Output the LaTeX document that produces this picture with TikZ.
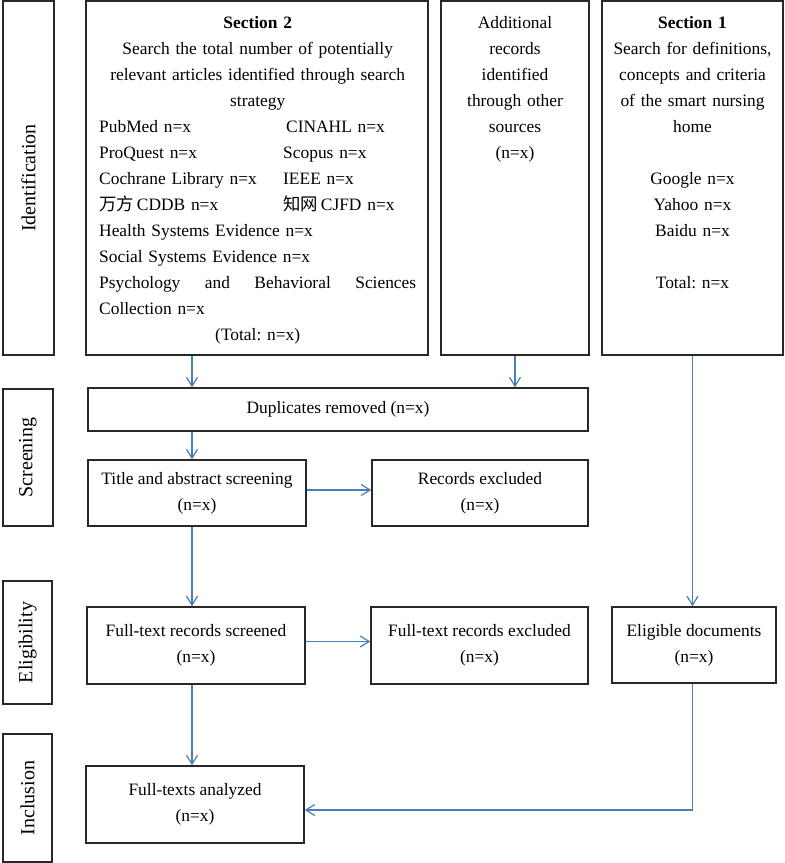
\documentclass[tikz,border=0pt]{standalone}
\usepackage{fontspec}
\setmainfont{Liberation Serif}
\newfontfamily\cjk{Noto Sans CJK SC}
\usetikzlibrary{arrows.meta}
\definecolor{arrowblue}{RGB}{74,126,187}
\definecolor{boxline}{RGB}{40,40,40}
\frenchspacing
\begin{document}
\begin{tikzpicture}[x=1pt,y=-1pt,
  box/.style={draw=boxline, line width=1.4pt, rectangle, inner sep=0pt, align=center, font=\fontsize{17.4}{26}\selectfont},
  sidebox/.style={draw=boxline, line width=1.4pt, rectangle, inner sep=0pt, rotate=90, font=\fontsize{20}{24}\selectfont},
  txt/.style={inner sep=0pt, font=\fontsize{17.4}{26}\selectfont},
  flow/.style={draw=arrowblue, line width=1.2pt, -{Straight Barb[length=9pt,width=11pt]}}
]
\useasboundingbox (0,0) rectangle (785,863);

% stage labels
\node[sidebox, minimum width=354pt, minimum height=51pt] (idL) at (28.5,178) {Identification};
\node[sidebox, minimum width=137pt, minimum height=50pt] (scL) at (28,457.5) {Screening};
\node[sidebox, minimum width=123pt, minimum height=49pt] (elL) at (27.5,642.5) {Eligibility};
\node[sidebox, minimum width=128pt, minimum height=49pt] (inL) at (27.5,798) {Inclusion};

% top boxes
\node[box, minimum width=342pt, minimum height=354pt] (s2) at (257,178) {};
\node[box, minimum width=148pt, minimum height=354pt] (add) at (515,178) {};
\node[box, minimum width=181pt, minimum height=354pt] (s1) at (692.5,178) {};

\node[txt, anchor=base west, text width=317pt] (s2t) at (99,28) {%
{\centering\textbf{Section 2}\\
Search the total number of potentially\\
relevant articles identified through search\\
strategy\par}
\makebox[184pt][l]{PubMed n=x}\hspace{3pt}CINAHL n=x\\
\makebox[184pt][l]{ProQuest n=x}Scopus n=x\\
\makebox[184pt][l]{Cochrane Library n=x}IEEE n=x\\
\makebox[184pt][l]{{\cjk 万方}\,CDDB n=x}{\cjk 知网}\,CJFD n=x\\
Health Systems Evidence n=x\\
Social Systems Evidence n=x\\
\makebox[317pt][l]{Psychology\hfill and\hfill Behavioral\hfill Sciences}\\
Collection n=x\par
{\centering (Total: n=x)\par}};

\node[txt, anchor=base, text width=148pt, align=center] (addt) at (515,28) {Additional\\records\\identified\\through other\\sources\\(n=x)};

\node[txt, anchor=base, text width=181pt, align=center] (s1t) at (692.5,28) {\textbf{Section 1}\\Search for definitions,\\concepts and criteria\\of the smart nursing\\home\\[26pt]Google n=x\\Yahoo n=x\\Baidu n=x\\[26pt]Total: n=x};

% lower boxes
\node[box, minimum width=500pt, minimum height=43pt] (dup) at (338,409.5) {Duplicates removed (n=x)};
\node[box, minimum width=218pt, minimum height=66pt] (ti) at (197,493) {Title and abstract screening\\(n=x)};
\node[box, minimum width=216pt, minimum height=66pt] (re) at (480,493) {Records excluded\\(n=x)};
\node[box, minimum width=218pt, minimum height=77pt] (fs) at (196,645.5) {Full-text records screened\\(n=x)};
\node[box, minimum width=217pt, minimum height=77pt] (fe) at (479.5,645.5) {Full-text records excluded\\(n=x)};
\node[box, minimum width=164pt, minimum height=76pt] (el) at (694,645) {Eligible documents\\(n=x)};
\node[box, minimum width=218pt, minimum height=77pt] (an) at (195,804.5) {Full-texts analyzed\\(n=x)};

% connectors
\coordinate (colA) at (192,0);
\draw[flow] (s2.south -| colA) -- (dup.north -| colA);
\draw[flow] (add.south) -- (add.south |- dup.north);
\draw[flow] (dup.south -| colA) -- (ti.north -| colA);
\draw[flow] ([yshift=3pt]ti.east) -- ([yshift=3pt]re.west);
\draw[flow] (ti.south -| colA) -- (fs.north -| colA);
\draw[flow] ([yshift=4pt]fs.east) -- ([yshift=4pt]fe.west);
\draw[flow] (fs.south -| colA) -- (an.north -| colA);
\draw[flow] (s1.south) -- (s1.south |- el.north);
\draw[flow] (el.south -| s1.south) |- ([yshift=-5.5pt]an.east);
\end{tikzpicture}
\end{document}
